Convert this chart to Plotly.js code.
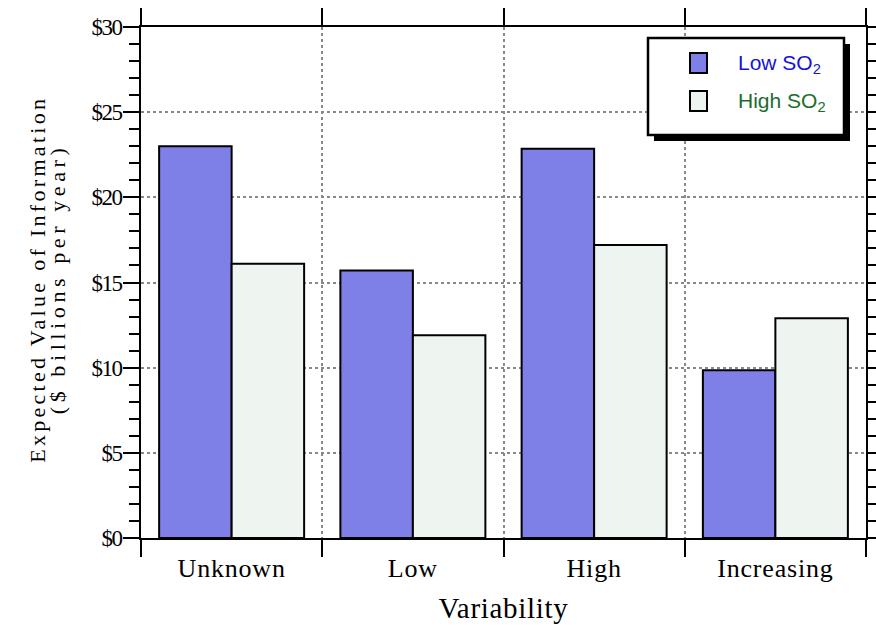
<!DOCTYPE html>
<html>
<head>
<meta charset="utf-8">
<script src="https://cdn.plot.ly/plotly-3.0.1.min.js"></script>
<style>
html,body{margin:0;padding:0;background:#fff;}
#chart{width:876px;height:628px;}
#chart .xtick text{letter-spacing:0.8px;}
#chart .ytick text{letter-spacing:-1.5px;}
#chart .g-xtitle text{letter-spacing:0.7px;}
#chart .annotation[data-index="2"] text{letter-spacing:3.3px;}
#chart .annotation[data-index="3"] text{letter-spacing:4.6px;}
</style>
</head>
<body>
<div id="chart"></div>
<script>
// ---- data ----
const categories = ["Unknown", "Low", "High", "Increasing"];
const lowSO2 = [23.0, 15.7, 22.85, 9.85];
const highSO2 = [16.1, 11.9, 17.2, 12.9];
const seriesNames = ["Low SO<sub>2</sub>", "High SO<sub>2</sub>"];
const yTickVals = [0, 5, 10, 15, 20, 25, 30];
const yTickText = ["$0", "$5", "$10", "$15", "$20", "$25", "$30"];
const xTitle = "Variability";
const yTitleLines = ["Expected Value of Information", "($ billions per year)"];

// ---- styles ----
const lowColor = "#7f7fe8";
const highColor = "#eef4f0";
const lowText = "#1414d6";
const highText = "#1a6e2a";

// geometry helpers (pixel -> paper)
const L = 141, R = 866, T = 27, B = 538, W = 876, H = 628;
const px = x => (x - L) / (R - L);
const py = y => (B - y) / (B - T);

const traces = [
  {type: "bar", x: categories, y: lowSO2, name: seriesNames[0],
   marker: {color: lowColor, line: {color: "#000", width: 2}}, showlegend: false},
  {type: "bar", x: categories, y: highSO2, name: seriesNames[1],
   marker: {color: highColor, line: {color: "#000", width: 2}}, showlegend: false}
];

const serif = "Liberation Serif, Times New Roman, serif";

const shapes = [
  // legend shadow
  {type: "rect", xref: "paper", yref: "paper", layer: "above",
   x0: px(654), x1: px(850), y0: py(44), y1: py(141),
   fillcolor: "#000", line: {width: 0}},
  // legend box
  {type: "rect", xref: "paper", yref: "paper", layer: "above",
   x0: px(648), x1: px(844), y0: py(38), y1: py(135),
   fillcolor: "#fff", line: {color: "#000", width: 2.5}},
  // swatches
  {type: "rect", xref: "paper", yref: "paper", layer: "above",
   x0: px(690), x1: px(707), y0: py(53), y1: py(73),
   fillcolor: lowColor, line: {color: "#000", width: 2}},
  {type: "rect", xref: "paper", yref: "paper", layer: "above",
   x0: px(690), x1: px(707), y0: py(91), y1: py(111),
   fillcolor: highColor, line: {color: "#000", width: 2}}
];

const annotations = [
  {xref: "paper", yref: "paper", x: px(736), y: py(64), xanchor: "left", yanchor: "middle",
   showarrow: false, text: seriesNames[0],
   font: {family: "Liberation Sans, Arial, sans-serif", size: 21, color: lowText}},
  {xref: "paper", yref: "paper", x: px(736), y: py(102), xanchor: "left", yanchor: "middle",
   showarrow: false, text: seriesNames[1],
   font: {family: "Liberation Sans, Arial, sans-serif", size: 21, color: highText}},
  {xref: "paper", yref: "paper", x: px(37), y: py(280), xanchor: "center", yanchor: "middle",
   textangle: -90, showarrow: false, text: yTitleLines[0],
   font: {family: serif, size: 22, color: "#000"}},
  {xref: "paper", yref: "paper", x: px(57), y: py(279), xanchor: "center", yanchor: "middle",
   textangle: -90, showarrow: false, text: yTitleLines[1],
   font: {family: serif, size: 22, color: "#000"}}
];

const layout = {
  width: W, height: H,
  margin: {l: L, r: W - R, t: T, b: H - B, pad: 0},
  paper_bgcolor: "#fff", plot_bgcolor: "#fff",
  barmode: "group", bargap: 0.2, bargroupgap: 0,
  showlegend: false,
  xaxis: {
    type: "category", tickson: "boundaries",
    ticks: "outside", ticklen: 17, tickwidth: 2, tickcolor: "#000",
    showline: true, linecolor: "#000", linewidth: 2, mirror: "allticks",
    showgrid: true, gridcolor: "#888", gridwidth: 2, griddash: "dot",
    tickfont: {family: serif, size: 26, color: "#000"},
    ticklabelstandoff: 6,
    title: {text: xTitle, font: {family: serif, size: 29, color: "#000"}, standoff: 15},
    automargin: false
  },
  yaxis: {
    range: [0, 30], tickvals: yTickVals, ticktext: yTickText,
    ticks: "outside", ticklen: 16, tickwidth: 2, tickcolor: "#000",
    minor: {dtick: 1, tick0: 0, ticks: "outside", ticklen: 10, tickwidth: 2, tickcolor: "#000", showgrid: false},
    showline: true, linecolor: "#000", linewidth: 2, mirror: "allticks",
    showgrid: true, gridcolor: "#888", gridwidth: 2, griddash: "dot",
    zeroline: false,
    tickfont: {family: serif, size: 23, color: "#000"},
    ticklabelstandoff: -3,
    automargin: false
  },
  shapes: shapes,
  annotations: annotations
};

Plotly.newPlot("chart", traces, layout, {displayModeBar: false, staticPlot: true});
</script>
</body>
</html>
